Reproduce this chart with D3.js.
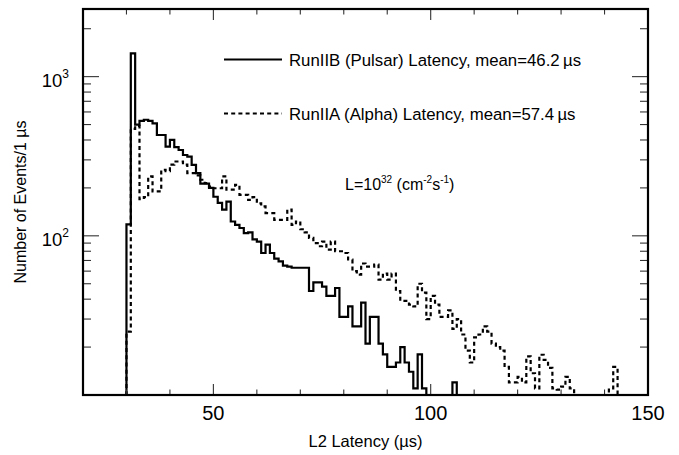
<!DOCTYPE html>
<html>
<head>
<meta charset="utf-8">
<script src="https://cdn.jsdelivr.net/npm/d3@7"></script>
<style>
  body { margin: 0; background: #fff; }
  text { font-family: "Liberation Sans", Arial, Helvetica, sans-serif; fill: #000; }
</style>
</head>
<body>
<div id="chart"></div>
<script>
// histogram contents, 1 us bins, first bin starts at 30 us
const firstBin = 30;
// RunIIB (Pulsar), bins 30..105
const pulsar = [
  118, 1400, 500, 527, 536, 527, 509, 430, 430, 363,   // 30-39
  401, 361, 346, 322, 314, 279, 248, 213, 213, 200,    // 40-49
  176, 161, 146, 164, 123, 117, 112, 104, 105, 95,     // 50-59
  92, 78, 88, 78, 72, 69, 65, 64, 63, 63,              // 60-69
  63, 63, 45, 51, 51, 48, 42, 42, 47, 31,              // 70-79
  31, 36, 27, 27, 38, 21, 31, 31, 21, 18,              // 80-89
  15, 15, 16, 20, 16, 14, 11, 18, 11, 0,               // 90-99
  0, 0, 0, 0, 0, 12                                    // 100-105
];
// RunIIA (Alpha), bins 30..142
const alpha = [
  25, 470, 490, 170, 175, 236, 190, 190, 260, 255,     // 30-39
  280, 293, 293, 280, 248, 248, 240, 225, 214, 204,    // 40-49
  199, 199, 236, 195, 195, 209, 181, 181, 168, 175,    // 50-59
  160, 153, 139, 139, 126, 126, 126, 146, 117, 123,    // 60-69
  110, 105, 97, 90, 86, 92, 82, 92, 80, 80,            // 70-79
  78, 71, 60, 57, 67, 64, 64, 66, 53, 58,              // 80-89
  53, 58, 45, 39, 39, 37, 36, 50, 44, 30,              // 90-99
  42, 37, 31, 31, 34, 26, 30, 24, 19, 16,              // 100-109
  23, 24, 27, 25, 21, 20, 19, 15, 12, 12,              // 110-119
  13, 12, 17.5, 13.7, 11, 17.9, 16.6, 14.8, 11, 10.8,  // 120-129
  11.3, 13, 11, 0, 0, 0, 0, 0, 0, 0,                   // 130-139
  0, 11, 15                                            // 140-142
];
const xMajor = [50, 100, 150];
const xMinor = [30, 40, 60, 70, 80, 90, 110, 120, 130, 140];
const yMajor = [100, 1000];
const yMinor = [20, 30, 40, 50, 60, 70, 80, 90, 200, 300, 400, 500, 600, 700, 800, 900, 2000];

const W = 679, H = 455;
const m = { left: 83, right: 648, top: 9, bottom: 395 };
const yMin = 10, yMax = 2660;
const dots = "4,3.2";

const svg = d3.select("#chart").append("svg")
  .attr("width", W).attr("height", H);

const x = d3.scaleLinear().domain([20, 150]).range([m.left, m.right]);
const y = d3.scaleLog().domain([yMin, yMax]).range([m.bottom, m.top]);

svg.append("clipPath").attr("id", "plot")
  .append("rect").attr("x", m.left).attr("y", m.top)
  .attr("width", m.right - m.left).attr("height", m.bottom - m.top);

// step outline like a ROOT histogram
function steps(values) {
  const pts = [[20, 0], [firstBin, 0]];
  values.forEach((v, i) => {
    pts.push([firstBin + i, v], [firstBin + i + 1, v]);
  });
  pts.push([firstBin + values.length, 0], [150, 0]);
  return pts;
}
const line = d3.line()
  .x(d => x(d[0]))
  .y(d => y(Math.max(d[1], yMin)));

const plot = svg.append("g").attr("clip-path", "url(#plot)");

plot.append("path").datum(steps(alpha))
  .attr("d", line).attr("fill", "none")
  .attr("stroke", "#000").attr("stroke-width", 2.2)
  .attr("stroke-dasharray", dots);

plot.append("path").datum(steps(pulsar))
  .attr("d", line).attr("fill", "none")
  .attr("stroke", "#000").attr("stroke-width", 2.2);

// ticks on all four sides
const ticks = svg.append("g").attr("stroke", "#333").attr("stroke-width", 1.1);
function xTick(v, len) {
  ticks.append("line").attr("x1", x(v)).attr("x2", x(v)).attr("y1", m.bottom).attr("y2", m.bottom - len);
  ticks.append("line").attr("x1", x(v)).attr("x2", x(v)).attr("y1", m.top).attr("y2", m.top + len);
}
function yTick(v, len) {
  ticks.append("line").attr("y1", y(v)).attr("y2", y(v)).attr("x1", m.left).attr("x2", m.left + len);
  ticks.append("line").attr("y1", y(v)).attr("y2", y(v)).attr("x1", m.right).attr("x2", m.right - len);
}
xMajor.forEach(v => xTick(v, 11));
xMinor.forEach(v => xTick(v, 5.5));
yMajor.forEach(v => yTick(v, 16));
yMinor.forEach(v => yTick(v, 8));

// frame
svg.append("rect").attr("x", m.left).attr("y", m.top)
  .attr("width", m.right - m.left).attr("height", m.bottom - m.top)
  .attr("fill", "none").attr("stroke", "#000").attr("stroke-width", 2.2);

// x tick labels
svg.selectAll(".xlab").data(xMajor).enter().append("text")
  .attr("class", "xlab")
  .attr("x", d => x(d)).attr("y", 419.5)
  .attr("text-anchor", "middle").attr("font-size", 20)
  .text(d => d);

// y tick labels 10^n
const ylab = svg.selectAll(".ylab").data(yMajor).enter().append("text")
  .attr("class", "ylab")
  .attr("x", 69).attr("y", d => y(d) + 10)
  .attr("text-anchor", "end").attr("font-size", 18.5);
ylab.append("tspan").text("10");
ylab.append("tspan").attr("dy", -8.5).attr("font-size", 12).text(d => Math.round(Math.log10(d)));

// axis titles
svg.append("text")
  .attr("x", (m.left + m.right) / 2).attr("y", 447)
  .attr("text-anchor", "middle").attr("font-size", 16.5)
  .text("L2 Latency (\u00b5s)");

svg.append("text")
  .attr("transform", `translate(26,${(m.top + m.bottom) / 2}) rotate(-90)`)
  .attr("text-anchor", "middle").attr("font-size", 16)
  .text("Number of Events/1 \u00b5s");

// legend
const legend = [
  { label: "RunIIB (Pulsar) Latency, mean=46.2\u2009\u00b5s", dash: null, y: 59.5 },
  { label: "RunIIA (Alpha) Latency, mean=57.4\u2009\u00b5s", dash: dots, y: 113.5 }
];
legend.forEach(d => {
  svg.append("line").attr("x1", 224).attr("x2", 282).attr("y1", d.y).attr("y2", d.y)
    .attr("stroke", "#000").attr("stroke-width", 2.2)
    .attr("stroke-dasharray", d.dash);
  svg.append("text").attr("x", 289).attr("y", d.y + 6.5)
    .attr("font-size", 16.8).text(d.label);
});

// luminosity note
const lum = svg.append("text").attr("x", 345).attr("y", 190).attr("font-size", 16);
lum.append("tspan").text("L=10");
lum.append("tspan").attr("dy", -7).attr("font-size", 10).text("32");
lum.append("tspan").attr("dy", 7).text(" (cm");
lum.append("tspan").attr("dy", -7).attr("font-size", 10).text("-2");
lum.append("tspan").attr("dy", 7).text("s");
lum.append("tspan").attr("dy", -7).attr("font-size", 10).text("-1");
lum.append("tspan").attr("dy", 7).text(")");
</script>
</body>
</html>
